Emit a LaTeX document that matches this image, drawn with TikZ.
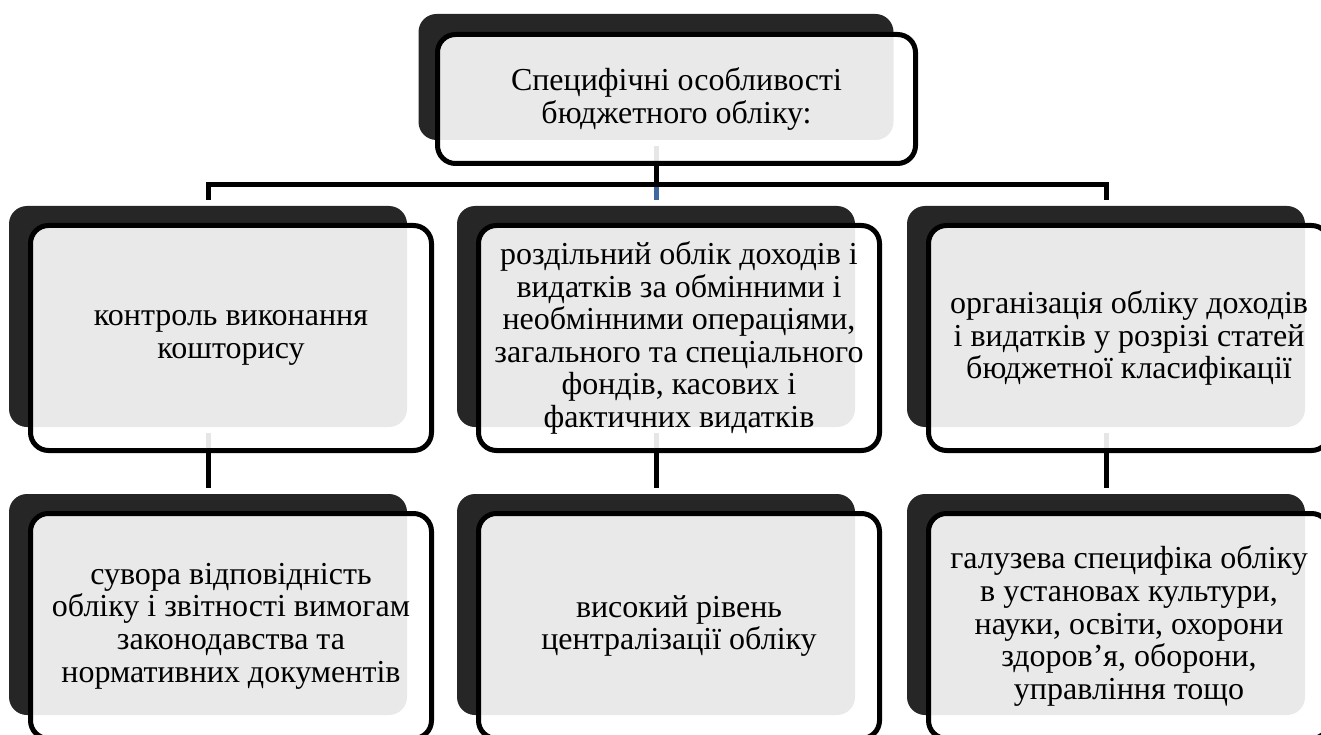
\documentclass[tikz,border=0pt]{standalone}
\usepackage{fontspec}
\setmainfont{Liberation Serif}
\usetikzlibrary{positioning}

\definecolor{darkbox}{RGB}{38,38,38}
\definecolor{linkblue}{RGB}{64,104,160}

\tikzset{
  backbox/.style={fill=darkbox, rounded corners=18pt, inner sep=0pt, outer sep=0pt,
    minimum width=398pt, minimum height=221pt},
  frontbox/.style={draw=black, line width=5pt, fill=white, fill opacity=0.9, text opacity=1,
    rounded corners=18pt, minimum width=401pt, minimum height=225pt, align=center,
    font=\fontsize{32}{32.6}\selectfont},
  link/.style={line width=5pt, shorten <=6pt, shorten >=6pt},
}

\begin{document}
\begin{tikzpicture}[x=1pt, y=-1pt]
  \useasboundingbox (0,0) rectangle (1321,735);
  \clip (0,0) rectangle (1321,735);

  % dark boxes behind
  \node[backbox, minimum width=475pt, minimum height=126pt] (topS) at (656,77) {};
  \node[backbox] (a1S) at (208,316.5) {};
  \node[backbox] (a2S) at (656,316.5) {};
  \node[backbox] (a3S) at (1106,316.5) {};
  \node[backbox] (b1S) at (208,604.5) {};
  \node[backbox] (b2S) at (656,604.5) {};
  \node[backbox] (b3S) at (1106,604.5) {};

  % connectors
  \coordinate (jn) at (656,184.5);
  \draw[link, linkblue] (topS.south) -- (a2S.north);
  \draw[link] (topS.south) -- (jn) -| (a1S.north);
  \draw[link] (topS.south) -- (jn) -| (a3S.north);
  \draw[link] (a1S.south) -- (b1S.north);
  \draw[link] (a2S.south) -- (b2S.north);
  \draw[link] (a3S.south) -- (b3S.north);

  % framed boxes with text
  \node[frontbox, minimum width=478pt, minimum height=129pt,
    below right=18pt and 16.5pt of topS.north west] (top)
    {Специфічні особливості\\бюджетного обліку:};

  \node[frontbox, below right=17pt and 19pt of a1S.north west] (a1)
    {контроль виконання\\кошторису};
  \node[frontbox, below right=17pt and 19pt of a2S.north west] (a2)
    {роздільний облік доходів і\\видатків за обмінними і\\необмінними операціями,\\загального та спеціального\\фондів, касових і\\фактичних видатків};
  \node[frontbox, below right=17pt and 19pt of a3S.north west] (a3)
    {організація обліку доходів\\і видатків у розрізі статей\\бюджетної класифікації};

  \node[frontbox, below right=17pt and 19pt of b1S.north west] (b1)
    {сувора відповідність\\обліку і звітності вимогам\\законодавства та\\нормативних документів};
  \node[frontbox, below right=17pt and 19pt of b2S.north west] (b2)
    {високий рівень\\централізації обліку};
  \node[frontbox, below right=17pt and 19pt of b3S.north west] (b3)
    {галузева специфіка обліку\\в установах культури,\\науки, освіти, охорони\\здоров’я, оборони,\\управління тощо};
\end{tikzpicture}
\end{document}
